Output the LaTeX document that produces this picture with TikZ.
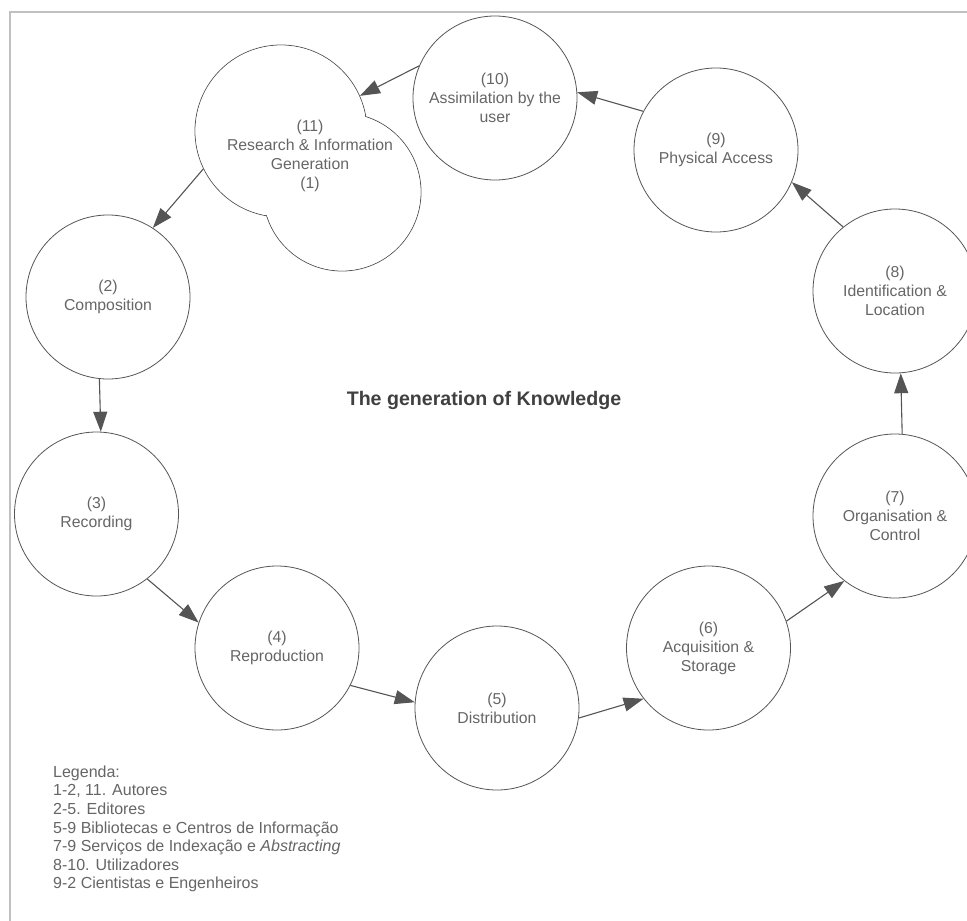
\documentclass[tikz,border=0pt]{standalone}
\usepackage{fontspec}
\setmainfont{Liberation Sans}
\usetikzlibrary{arrows.meta}
\definecolor{linegray}{HTML}{555555}
\definecolor{textgray}{HTML}{666666}
\definecolor{framegray}{HTML}{C0C0C0}
\definecolor{titlegray}{HTML}{404040}
\begin{document}
\begin{tikzpicture}[x=1pt,y=-1pt,
  ring/.style={circle, draw=linegray, line width=0.8pt, fill=white, minimum size=164pt, inner sep=0pt,
    align=center, text=textgray, font=\fontsize{15.8}{19}\selectfont},
  flow/.style={draw=linegray, line width=1.1pt, -{Triangle[length=20pt,width=14pt]}},
  lbl/.style={text=textgray, font=\fontsize{15.8}{19}\selectfont, align=center, inner sep=0pt}
]
\useasboundingbox (0,0) rectangle (967,921);
\fill[white] (0,0) rectangle (967,921);
\draw[framegray, line width=2pt] (967,12) -- (10,12) -- (10,921);

% compound node (11)/(1)
\node[ring, minimum size=172pt] (n11a) at (281,131) {};
\node[ring, minimum size=158pt] (n11b) at (342,192) {};
\fill[white] (n11a.center) circle[radius=85.4pt];
\fill[white] (n11b.center) circle[radius=78.4pt];
\node[lbl] (n11) at (310,156) {(11)\\Research \& Information\\Generation\\(1)};

\node[ring] (n2) at (108,297) {(2)\\Composition};
\node[ring] (n3) at (96.5,514) {(3)\\Recording};
\node[ring] (n4) at (277,648) {(4)\\Reproduction};
\node[ring] (n5) at (497,708) {(5)\\Distribution};
\node[ring] (n6) at (708.5,648) {(6)\\Acquisition \&\\Storage};
\node[ring] (n7) at (895,516) {(7)\\Organisation \&\\Control};
\node[ring] (n8) at (895,291) {(8)\\Identification \&\\Location};
\node[ring] (n9) at (716,150) {(9)\\Physical Access};
\node[ring] (n10) at (495,98) {(10)\\Assimilation by the\\user};

\node[text=titlegray, font=\fontsize{19.6}{22}\selectfont\bfseries] (title) at (484,400) {The generation of Knowledge};

\node[text=textgray, font=\fontsize{16}{18.6}\selectfont, align=left, anchor=west, inner sep=0pt] (legend) at (53,829)
 {Legenda:\\1-2, 11. Autores\\2-5. Editores\\5-9 Bibliotecas e Centros de Informação\\7-9 Serviços de Indexação e \textit{Abstracting}\\8-10. Utilizadores\\9-2 Cientistas e Engenheiros};

\draw[flow] (n10.157) -- (n11a.24);
\draw[flow] (n11a.206.6) -- (n2.57.5);
\draw[flow] (n2.264.4) -- (n3.87.6);
\draw[flow] (n3.308.4) -- (n4.162);
\draw[flow] (n4.333) -- (n5.176.5);
\draw[flow] (n5.353) -- (n6.218.4);
\draw[flow] (n6.19.6) -- (n7.232.4);
\draw[flow] (n7.85.8) -- (n8.274.2);
\draw[flow] (n8.129.4) -- (n9.337.4);
\draw[flow] (n9.152.2) -- (n10.4.1);
\end{tikzpicture}
\end{document}
